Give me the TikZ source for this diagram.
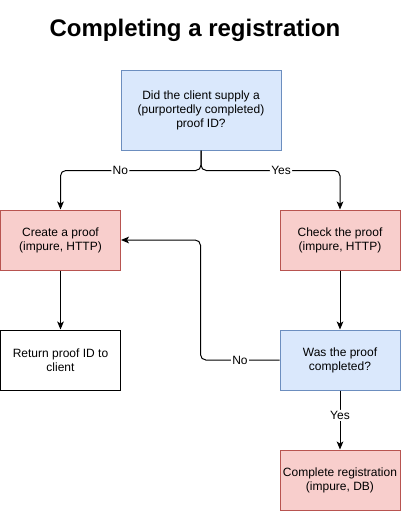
\documentclass[tikz,border=0pt]{standalone}
\usepackage{fontspec}
\setmainfont{Liberation Sans}
\usetikzlibrary{arrows.meta}
\definecolor{bfill}{HTML}{DAE8FC}
\definecolor{bline}{HTML}{6C8EBF}
\definecolor{rfill}{HTML}{F8CECC}
\definecolor{rline}{HTML}{B85450}
\begin{document}
\begin{tikzpicture}[x=0.75pt,y=-0.75pt,
  box/.style={draw, line width=0.75pt, minimum width=90pt, minimum height=45pt, align=center, inner sep=0pt, font=\fontsize{9}{10.5}\selectfont},
  bluebox/.style={box, fill=bfill, draw=bline},
  redbox/.style={box, fill=rfill, draw=rline},
  plainbox/.style={box, fill=white, draw=black},
  arr/.style={-{Stealth[length=6pt,width=5pt,inset=1.5pt]}, line width=0.75pt, rounded corners=4pt},
  lab/.style={fill=white, inner sep=1pt, font=\fontsize{9}{10.5}\selectfont}]
\useasboundingbox (0,0) rectangle (401,511);
\node[font=\bfseries\fontsize{18}{21}\selectfont, anchor=base] (title) at (195,36) {Completing a registration};
\node[bluebox, minimum width=120pt, minimum height=60pt] (q1) at (201,110) {Did the client supply a\\(purportedly completed)\\proof ID?};
\node[redbox] (create) at (60.5,240) {Create a proof\\(impure, HTTP)};
\node[redbox] (check) at (340,240) {Check the proof\\(impure, HTTP)};
\node[plainbox] (ret) at (60.5,360) {Return proof ID to\\client};
\node[bluebox] (was) at (340,360) {Was the proof\\completed?};
\node[redbox] (done) at (340,480) {Complete registration\\(impure, DB)};
\draw[arr] (q1.south) -- ++(0,20) -| node[lab, pos=0.287]{No} (create.north);
\draw[arr] (q1.south) -- ++(0,20) -| node[lab, pos=0.288]{Yes} (check.north);
\draw[arr] (check.south) -- (was.north);
\draw[arr] (create.south) -- (ret.north);
\draw[arr] (was.west) -- node[lab]{No} ++(-79,0) |- (create.east);
\draw[arr] (was.south) -- node[lab, pos=0.42]{Yes} (done.north);
\end{tikzpicture}
\end{document}
